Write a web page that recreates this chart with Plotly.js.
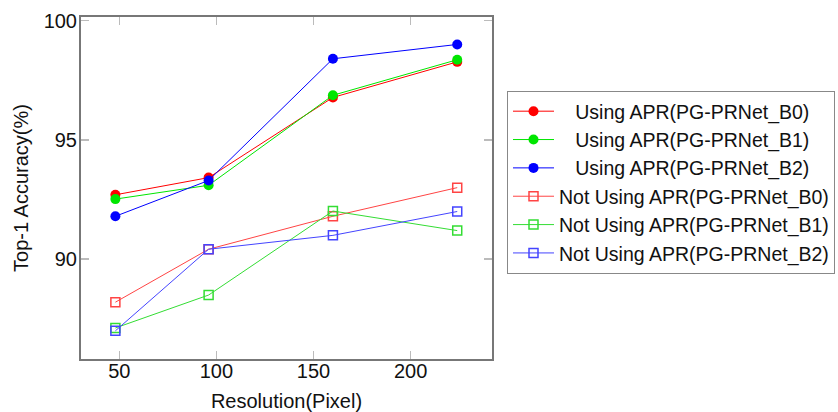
<!DOCTYPE html>
<html>
<head>
<meta charset="utf-8">
<script src="https://cdn.plot.ly/plotly-3.0.1.min.js"></script>
<style>html,body{margin:0;padding:0;background:#fff;}#chart{width:838px;height:412px;}</style>
</head>
<body>
<div id="chart"></div>
<script>
const resolution = [48, 96, 160, 224];
const seriesNames = [
  "Using APR(PG-PRNet_B0)",
  "Using APR(PG-PRNet_B1)",
  "Using APR(PG-PRNet_B2)",
  "Not Using APR(PG-PRNet_B0)",
  "Not Using APR(PG-PRNet_B1)",
  "Not Using APR(PG-PRNet_B2)"
];
const usingB0 = [92.7, 93.42, 96.78, 98.27];
const usingB1 = [92.52, 93.1, 96.87, 98.36];
const usingB2 = [91.8, 93.3, 98.4, 99.0];
const notUsingB0 = [88.2, 90.42, 91.8, 93.0];
const notUsingB1 = [87.12, 88.5, 92.02, 91.2];
const notUsingB2 = [87.0, 90.42, 91.0, 92.0];
const xTicks = [50, 100, 150, 200];
const yTicks = [90, 95, 100];

const values = [usingB0, usingB1, usingB2, notUsingB0, notUsingB1, notUsingB2];
const lineColors = ['#ff0000', '#00e600', '#0000ff', '#ff4444', '#33dd33', '#4444ff'];
const pad = '\u00a0\u00a0\u00a0';

const traces = values.map((v, i) => {
  const filled = i < 3;
  return {
    x: resolution,
    y: v,
    name: (filled ? pad : '') + seriesNames[i],
    type: 'scatter',
    mode: 'lines+markers',
    line: {color: lineColors[i], width: 1},
    marker: filled
      ? {symbol: 'circle', size: 10, color: lineColors[i]}
      : {symbol: 'square-open', size: 9, color: lineColors[i], line: {width: 1.5, color: lineColors[i]}}
  };
});

const axisCommon = {
  showline: true,
  linecolor: '#777777',
  linewidth: 2,
  mirror: 'ticks',
  ticks: 'inside',
  ticklen: 8,
  tickcolor: '#bbbbbb',
  tickwidth: 1.5,
  showgrid: false,
  zeroline: false,
  automargin: false,
  tickfont: {family: 'Liberation Sans, Arial, sans-serif', size: 20, color: '#111'}
};

const layout = {
  width: 838,
  height: 412,
  margin: {l: 81, r: 346, t: 17, b: 53, autoexpand: false},
  paper_bgcolor: '#ffffff',
  plot_bgcolor: '#ffffff',
  font: {family: 'Liberation Sans, Arial, sans-serif', color: '#111'},
  xaxis: Object.assign({}, axisCommon, {
    range: [30.3, 241.9],
    tickvals: xTicks,
    ticktext: xTicks.map(String),
    ticklabelstandoff: -7,
    title: {text: 'Resolution(Pixel)', font: {size: 20, color: '#111'}, standoff: 14}
  }),
  yaxis: Object.assign({}, axisCommon, {
    range: [85.82, 100.15],
    tickvals: yTicks,
    ticktext: yTicks.map(String),
    ticklabelstandoff: -2,
    title: {text: 'Top-1 Accuracy(%)', font: {size: 20, color: '#111'}, standoff: 10}
  }),
  showlegend: true,
  legend: {
    x: 1.0365,
    y: 0.7836,
    xanchor: 'left',
    yanchor: 'top',
    bordercolor: '#888888',
    borderwidth: 1,
    bgcolor: '#ffffff',
    font: {family: 'Liberation Sans, Arial, sans-serif', size: 19.5, color: '#111'},
    itemwidth: 41,
    tracegroupgap: 0
  }
};

Plotly.newPlot('chart', traces, layout, {displayModeBar: false, staticPlot: true});
</script>
</body>
</html>
